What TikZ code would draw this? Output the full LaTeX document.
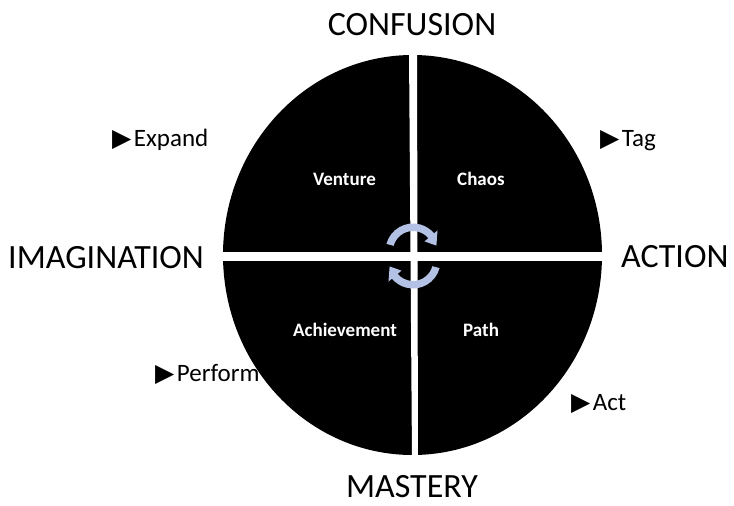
\documentclass[tikz,border=0pt]{standalone}
\usepackage{fontspec}
\setmainfont{Carlito}
\newfontfamily\symfont{DejaVu Sans}
\usetikzlibrary{calc}
\definecolor{cyclearrow}{RGB}{178,193,228}
\tikzset{
  axislabel/.style={font=\fontsize{34}{38}\selectfont, inner sep=0pt, anchor=base},
  sidelabel/.style={font=\fontsize{25}{29}\selectfont, inner sep=0pt, anchor=base west},
  quadlabel/.style={font=\fontsize{19}{22}\selectfont\bfseries, text=white, inner sep=0pt, anchor=base},
  cyclefill/.style={fill=cyclearrow, draw=none}
}
\newcommand{\pointer}{{\symfont ▶}\hspace{2.5pt}}
\begin{document}
\begin{tikzpicture}[x=1pt, y=-1pt]
  \useasboundingbox (0,0) rectangle (734,506);
  \fill[white] (0,0) rectangle (734,506);

  % the black disc split into four quadrants by white gaps
  \fill[black] (412.5,255) ellipse [x radius=189.5, y radius=200];
  \fill[white] (409,50) -- (417,50) -- (418,460) -- (412,460) -- cycle;
  \fill[white] (215,252) rectangle (610,260.5);

  % quadrant names
  \node[quadlabel] (venture) at (344.5,185.7) {Venture};
  \node[quadlabel, anchor=base west] (chaos) at (457,185.7) {Chaos};
  \node[quadlabel] (achievement) at (345,336) {Achievement};
  \node[quadlabel, anchor=base west] (path) at (463,336) {Path};

  % axis names
  \node[axislabel] (confusion) at (412,35) {CONFUSION};
  \node[axislabel] (mastery) at (412,497) {MASTERY};
  \node[axislabel, anchor=base west] (imagination) at (8,268) {IMAGINATION};
  \node[axislabel, anchor=base west] (action) at (621,267) {ACTION};

  % diagonal hints
  \node[sidelabel] (expand) at (112,146) {\pointer Expand};
  \node[sidelabel] (tag) at (600,146.7) {\pointer Tag};
  \node[sidelabel] (perform) at (155,381) {\pointer Perform};
  \node[sidelabel] (act) at (571,410) {\pointer Act};

  % clockwise cycle arrows in the centre
  \coordinate (topc) at (413,251);
  \coordinate (botc) at (413,261);
  \fill[cyclefill]
    ($(topc)+(-165:27.5)$) arc[start angle=-165, end angle=-40, radius=27.5]
    -- ($(topc)+(-40:32)$) -- ($(topc)+(-13:24)$) -- ($(topc)+(-40:15)$)
    -- ($(topc)+(-40:20)$) arc[start angle=-40, end angle=-165, radius=20]
    -- cycle;
  \fill[cyclefill]
    ($(botc)+(15:27.5)$) arc[start angle=15, end angle=140, radius=27.5]
    -- ($(botc)+(140:32)$) -- ($(botc)+(167:24)$) -- ($(botc)+(140:15)$)
    -- ($(botc)+(140:20)$) arc[start angle=140, end angle=15, radius=20]
    -- cycle;
\end{tikzpicture}
\end{document}
